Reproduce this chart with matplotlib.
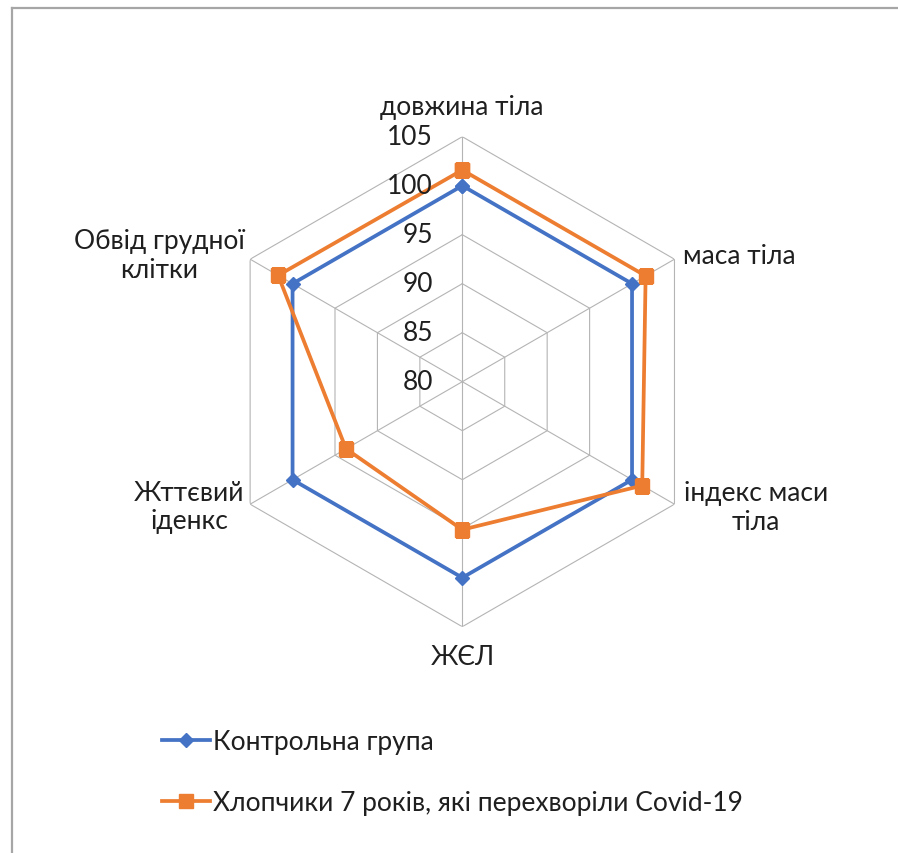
import numpy as np
import matplotlib
matplotlib.use("Agg")
import matplotlib.pyplot as plt
from matplotlib.lines import Line2D

plt.rcParams['font.family'] = ['Lato', 'DejaVu Sans']

categories = ["довжина тіла", "маса тіла", "індекс маси\nтіла", "ЖЄЛ",
              "Жттєвий\nіденкс", "Обвід грудної\nклітки"]
control = [100, 100, 100, 100, 100, 100]
covid = [101.6, 101.6, 101.2, 95.1, 93.7, 101.7]
series_names = ["Контрольна група", "Хлопчики 7 років, які перехворіли Covid-19"]
ticks = [80, 85, 90, 95, 100, 105]

W, H = 898, 854
fig = plt.figure(figsize=(W / 100, H / 100), dpi=100)


def px(x, y):
    return x / W, 1 - y / H


# chart-area border: top and left edges
x0, y0 = px(12, 9)
for xs, ys in (([x0, 1.0], [y0, y0]), ([x0, x0], [y0, 0.0])):
    fig.lines.append(Line2D(xs, ys, transform=fig.transFigure,
                            color="#a6a6a6", linewidth=1.6))

cx, cy, R = 462.3, 382.7, 245.0
ax = fig.add_axes([(cx - R) / W, (H - cy - R) / H, 2 * R / W, 2 * R / H],
                  projection="polar")
ax.set_theta_offset(np.pi / 2)
ax.set_theta_direction(-1)
ax.set_ylim(ticks[0], ticks[-1])
ax.grid(False)
ax.set_xticks([])
ax.set_yticks([])
ax.spines["polar"].set_visible(False)
ax.patch.set_alpha(0)

n = len(categories)
angles = np.arange(n) * 2 * np.pi / n
closed = np.append(angles, angles[0])

grid_kw = dict(color="#b4b4b4", linewidth=0.8, zorder=1)
for t in ticks[1:]:
    ax.plot(closed, [t] * (n + 1), **grid_kw)
for a in angles:
    ax.plot([a, a], [ticks[0], ticks[-1]], **grid_kw)

ax.plot(closed, control + control[:1], color="#4472C4", linewidth=2.7,
        marker="D", markersize=7.5, zorder=3, label=series_names[0])
ax.plot(closed, covid + covid[:1], color="#ED7D31", linewidth=2.7,
        marker="s", markersize=10, zorder=4, label=series_names[1])

fs = 19
txt_color = "#1f1f1f"

# radial tick labels along the vertical axis
for t in ticks:
    r = (t - ticks[0]) / (ticks[-1] - ticks[0]) * R
    fig.text(*px(433, cy - r), str(t), ha="right", va="center",
             fontsize=fs, color=txt_color)

# category labels
lab = dict(fontsize=fs, color=txt_color, linespacing=1.15)
fig.text(*px(462, 108), categories[0], ha="center", va="center", **lab)
fig.text(*px(683, 257), categories[1], ha="left", va="center", **lab)
fig.text(*px(756, 508), categories[2], ha="center", va="center", multialignment="center", **lab)
fig.text(*px(463, 658), categories[3], ha="center", va="center", **lab)
fig.text(*px(189, 508), categories[4], ha="center", va="center", multialignment="center", **lab)
fig.text(*px(159, 256), categories[5], ha="center", va="center", multialignment="center", **lab)

# legend
handles, labels = ax.get_legend_handles_labels()
fig.legend(handles, labels, loc="upper left", bbox_to_anchor=px(162, 730),
           frameon=False, fontsize=fs, labelcolor=txt_color,
           handlelength=1.8, handletextpad=0.15, labelspacing=1.37,
           borderaxespad=0, borderpad=0)

fig.savefig("out.png", dpi=100, facecolor="white")
